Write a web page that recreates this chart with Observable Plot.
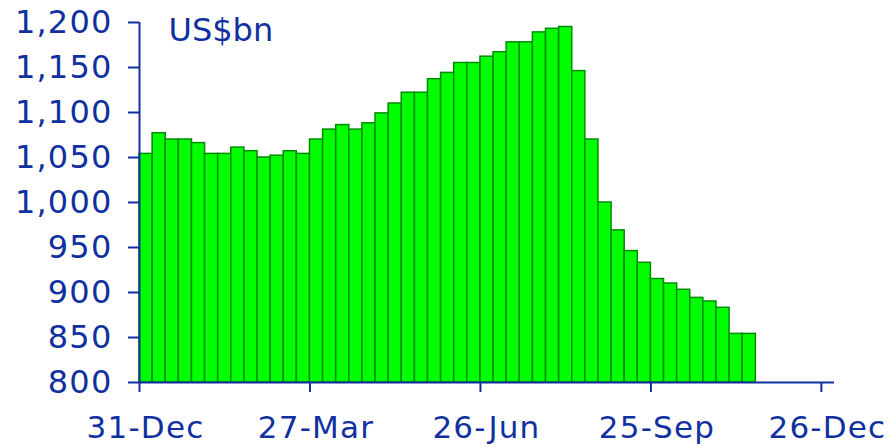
<!DOCTYPE html>
<html>
<head>
<meta charset="utf-8">
<script src="https://cdn.jsdelivr.net/npm/d3@7"></script>
<script src="https://cdn.jsdelivr.net/npm/@observablehq/plot@0.6"></script>
<style>
  html, body { margin: 0; padding: 0; background: #fff; }
  #chart svg { display: block; }
</style>
</head>
<body>
<div id="chart"></div>
<script>
// Weekly values, starting week of 31-Dec (US$bn)
const weekValues = [
  1054, 1077, 1070, 1070, 1066, 1054, 1054, 1061, 1057, 1050,
  1052, 1057, 1054, 1070, 1081, 1086, 1081, 1088, 1099, 1110,
  1122, 1122, 1137, 1144, 1155, 1155, 1162, 1167, 1178, 1178,
  1189, 1193, 1195, 1146, 1070, 1000, 969, 946, 933, 915,
  910, 903, 894, 890, 883, 854, 854
];
const tickWeeks = [0, 13, 26, 39, 52];
const tickLabels = ["31-Dec", "27-Mar", "26-Jun", "25-Sep", "26-Dec"];
const yTicks = [800, 850, 900, 950, 1000, 1050, 1100, 1150, 1200];
const unitLabel = "US$bn";

const data = weekValues.map((v, i) => ({week: i, value: v}));

const blue = "#1030a0";
const font = "DejaVu Sans, Verdana, sans-serif";

const chart = Plot.plot({
  width: 894,
  height: 447,
  marginLeft: 139,
  marginRight: 60,
  marginTop: 22,
  marginBottom: 65,
  style: {fontFamily: font, fontSize: "32px", color: blue, background: "#fff"},
  x: {domain: [0, 53]},
  y: {domain: [800, 1200]},
  marks: [
    Plot.rect(data, {
      x1: "week",
      x2: d => d.week + 1,
      y1: 800,
      y2: "value",
      fill: "#00ff00",
      stroke: "#008c00",
      strokeWidth: 1.5
    }),
    Plot.axisY({
      ticks: yTicks,
      tickFormat: d3.format(","),
      tickSize: 11,
      tickPadding: 16,
      stroke: blue,
      fill: blue,
      strokeWidth: 2,
      fontSize: 32,
      label: null
    }),
    // tick marks only
    Plot.axisX({
      ticks: tickWeeks,
      tickFormat: () => "",
      tickSize: 10,
      stroke: blue,
      strokeWidth: 2,
      label: null
    }),
    // labels only, slightly offset to the right as in the reference
    Plot.axisX({
      ticks: tickWeeks,
      tickFormat: d => tickLabels[tickWeeks.indexOf(d)],
      tickSize: 0,
      tickPadding: 33,
      fill: blue,
      fontSize: 31,
      dx: 6,
      label: null
    }),
    Plot.ruleY([800], {stroke: blue, strokeWidth: 2}),
    Plot.ruleX([0], {stroke: blue, strokeWidth: 2}),
    Plot.text([unitLabel], {
      frameAnchor: "top-left",
      textAnchor: "start",
      lineAnchor: "top",
      dx: 29,
      dy: -4,
      fill: blue,
      fontSize: 32
    })
  ]
});

d3.select(chart).selectAll('g[aria-label="y-axis tick label"] text').attr("letter-spacing", "1.2px");
d3.select(chart).selectAll('g[aria-label="x-axis tick label"] text').attr("letter-spacing", "1.2px");

document.getElementById("chart").appendChild(chart);
</script>
</body>
</html>
